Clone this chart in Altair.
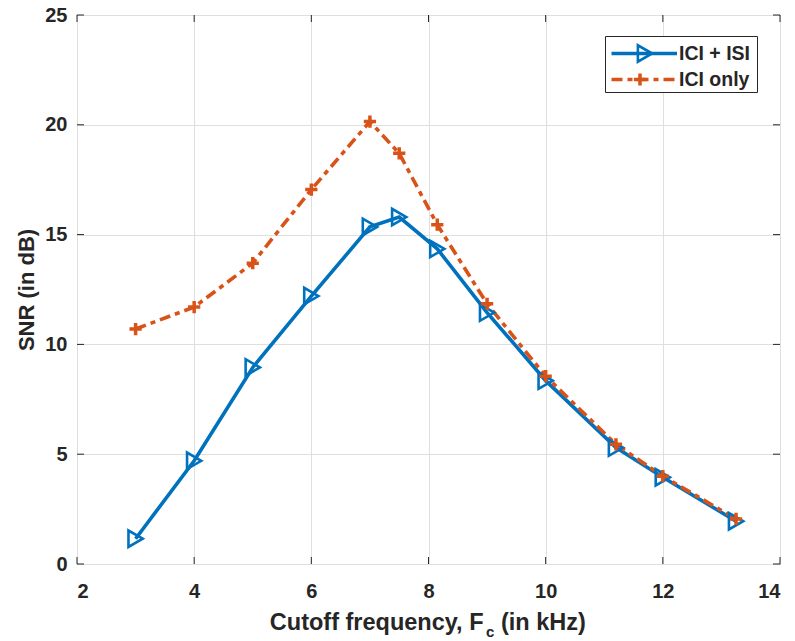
import altair as alt
import pandas as pd

# ---- data ----
fc = [3, 4, 5, 6, 7, 7.5, 8.15, 9, 10, 11.2, 12, 13.25]
snr_ici_isi = [1.15, 4.7, 8.95, 12.2, 15.35, 15.8, 14.35, 11.45, 8.35, 5.3, 3.95, 1.95]
snr_ici_only = [10.7, 11.7, 13.7, 17.05, 20.15, 18.7, 15.45, 11.85, 8.55, 5.45, 4.0, 2.05]
series_names = ["ICI + ISI", "ICI only"]
x_ticks = [2, 4, 6, 8, 10, 12, 14]
y_ticks = [0, 5, 10, 15, 20, 25]
x_title_parts = ["Cutoff frequency, F", "c", "(in kHz)"]
y_title = "SNR (in dB)"

BLUE = "#0072BD"
ORANGE = "#D95319"
DARK = "#262626"
FONT = "Liberation Sans"
W, H = 703, 549
DASH = [11, 5, 5, 5]

df_a = pd.DataFrame({"fc": fc, "snr": snr_ici_isi})
df_b = pd.DataFrame({"fc": fc, "snr": snr_ici_only})
df_xt = pd.DataFrame({"t": x_ticks})
df_yt = pd.DataFrame({"t": y_ticks})
one = pd.DataFrame({"a": [0]})

xscale = alt.Scale(domain=[2, 14], nice=False, zero=False)
yscale = alt.Scale(domain=[0, 25], nice=False, zero=False)
xaxis = alt.Axis(values=x_ticks, title=None, grid=True, ticks=False, domain=False,
                 labelFont=FONT, labelFontSize=20, labelFontWeight="bold",
                 labelColor=DARK, labelPadding=17, gridColor="#dfdfdf", gridWidth=1)
yaxis = alt.Axis(values=y_ticks, title=y_title, grid=True, ticks=False, domain=False,
                 labelFont=FONT, labelFontSize=20, labelFontWeight="bold",
                 labelColor=DARK, labelPadding=10, gridColor="#dfdfdf", gridWidth=1,
                 titleFont=FONT, titleFontSize=22, titleFontWeight="bold", titleColor=DARK,
                 titleAngle=270, titleX=-44, titleY=H / 2, titleAlign="center",
                 titleBaseline="alphabetic")

X = alt.X("fc:Q", scale=xscale, axis=xaxis)
Y = alt.Y("snr:Q", scale=yscale, axis=yaxis)

line_a = alt.Chart(df_a).mark_line(color=BLUE, strokeWidth=3.6).encode(x=X, y=Y)
line_b = alt.Chart(df_b).mark_line(color=ORANGE, strokeWidth=3.6,
                                   strokeDash=DASH).encode(x=X, y=Y)
pts_a = alt.Chart(df_a).mark_point(shape="triangle-right", size=270, filled=False,
                                   color=BLUE, strokeWidth=2.6, opacity=1).encode(x=X, y=Y)
PLUS = "M-1,0L1,0M0,-1L0,1"
pts_b = alt.Chart(df_b).mark_point(shape=PLUS, size=150, filled=False,
                                   color=ORANGE, strokeWidth=3.5, opacity=1).encode(x=X, y=Y)

# inward ticks on all four sides
TK = 7
xt_bot = alt.Chart(df_xt).mark_rule(color=DARK, strokeWidth=1).encode(
    x=alt.X("t:Q", scale=xscale, axis=xaxis), y=alt.value(H), y2=alt.value(H - TK))
xt_top = alt.Chart(df_xt).mark_rule(color=DARK, strokeWidth=1).encode(
    x=alt.X("t:Q", scale=xscale, axis=xaxis), y=alt.value(0), y2=alt.value(TK))
yt_left = alt.Chart(df_yt).mark_rule(color=DARK, strokeWidth=1).encode(
    y=alt.Y("t:Q", scale=yscale, axis=yaxis), x=alt.value(0), x2=alt.value(TK))
yt_right = alt.Chart(df_yt).mark_rule(color=DARK, strokeWidth=1).encode(
    y=alt.Y("t:Q", scale=yscale, axis=yaxis), x=alt.value(W), x2=alt.value(W - TK))

# x axis title with subscript
t1 = alt.Chart(one).mark_text(text=x_title_parts[0], font=FONT, fontSize=23.5, fontWeight="bold",
                              color=DARK, align="right", baseline="alphabetic").encode(
    x=alt.value(406.5), y=alt.value(615))
t2 = alt.Chart(one).mark_text(text=x_title_parts[1], font=FONT, fontSize=15, fontWeight="bold",
                              color=DARK, align="left", baseline="alphabetic").encode(
    x=alt.value(409), y=alt.value(622))
t3 = alt.Chart(one).mark_text(text=x_title_parts[2], font=FONT, fontSize=23.5, fontWeight="bold",
                              color=DARK, align="left", baseline="alphabetic").encode(
    x=alt.value(424), y=alt.value(615))

# legend
lg_box = alt.Chart(one).mark_rect(fill="white", stroke=DARK, strokeWidth=1).encode(
    x=alt.value(528.5), x2=alt.value(680.5), y=alt.value(21.5), y2=alt.value(77.5))
lg_l1 = alt.Chart(one).mark_rule(color=BLUE, strokeWidth=3.6).encode(
    x=alt.value(534.5), x2=alt.value(600), y=alt.value(38.5))
lg_l2 = alt.Chart(one).mark_rule(color=ORANGE, strokeWidth=3.6, strokeDash=DASH).encode(
    x=alt.value(534.5), x2=alt.value(600), y=alt.value(64.5))
lg_p1 = alt.Chart(one).mark_point(shape="triangle-right", size=270, filled=False, color=BLUE,
                                  strokeWidth=2.6, opacity=1).encode(
    x=alt.value(568), y=alt.value(38.5))
lg_p2 = alt.Chart(one).mark_point(shape=PLUS, size=150, filled=False, color=ORANGE,
                                  strokeWidth=3.5, opacity=1).encode(
    x=alt.value(563), y=alt.value(64.5))
lg_t1 = alt.Chart(one).mark_text(text=series_names[0], font=FONT, fontSize=19.5, fontWeight="bold",
                                 color=DARK, align="left", baseline="alphabetic").encode(
    x=alt.value(602), y=alt.value(45))
lg_t2 = alt.Chart(one).mark_text(text=series_names[1], font=FONT, fontSize=19.5, fontWeight="bold",
                                 color=DARK, align="left", baseline="alphabetic").encode(
    x=alt.value(602), y=alt.value(71))

chart = alt.layer(
    line_a, line_b, pts_a, pts_b,
    xt_bot, xt_top, yt_left, yt_right,
    t1, t2, t3,
    lg_box, lg_l1, lg_l2, lg_p1, lg_p2, lg_t1, lg_t2,
).properties(
    width=W, height=H,
    autosize=alt.AutoSizeParams(type="none"),
    padding={"left": 77, "top": 15, "right": 15, "bottom": 77},
    background="white",
).configure_view(stroke=DARK, strokeWidth=1)

chart.save("out.html", embed_options={"renderer": "svg", "actions": False})
